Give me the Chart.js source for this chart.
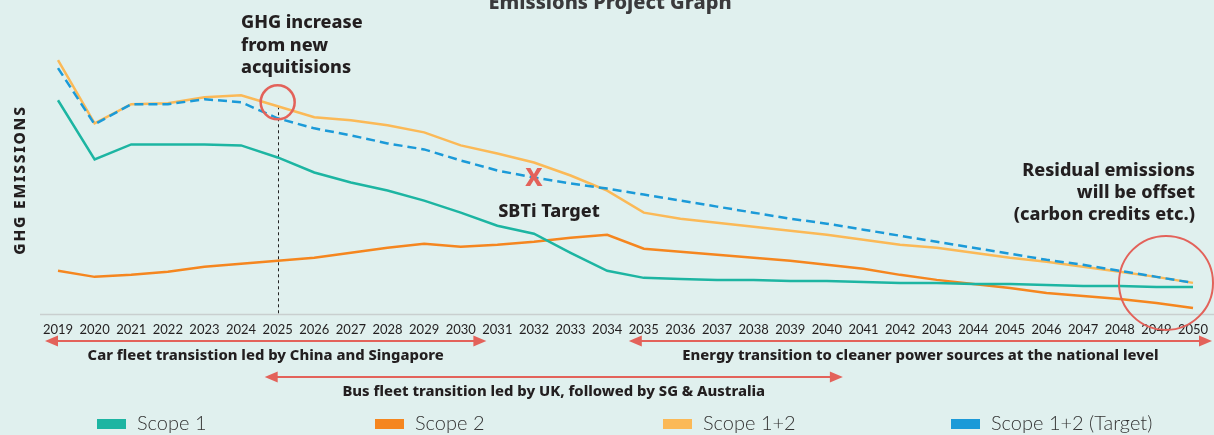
<!DOCTYPE html>
<html>
<head>
<meta charset="utf-8">
<script src="https://cdn.jsdelivr.net/npm/chart.js@4.4.1/dist/chart.umd.min.js"></script>
<style>
  html, body { margin: 0; padding: 0; background: #e0f0ee; }
  canvas { display: block; }
</style>
</head>
<body>
<canvas id="chart" width="1214" height="435"></canvas>
<script>
// Reporting years
const years = ['2019','2020','2021','2022','2023','2024','2025','2026','2027','2028','2029','2030',
  '2031','2032','2033','2034','2035','2036','2037','2038','2039','2040','2041','2042',
  '2043','2044','2045','2046','2047','2048','2049','2050'];

// GHG emissions (index units)
const scope1 = [213,154,169,169,169,168,156,141,131,123,113,101,88,80,61,43,
  36,35,34,34,33,33,32,31,31,30,30,29,28,28,27,27];
const scope2 = [43,37,39,42,47,50,53,56,61,66,70,67,69,72,76,79,
  65,62,59,56,53,49,45,39,34,30,26,21,18,15,11,6];
const scope12 = [253,190,209,210,216,218,207,196,193,188,181,168,160,151,138,123,
  101,95,91,87,83,79,74,69,66,61,56,52,47,42,37,31];
const scope12Target = [245,189,209,209,214,211,195,185,178,170,164,153,143,136,130,125,
  119,113,107,101,95,90,84,78,72,66,60,54,49,43,37,31];

const seriesNames = ['Scope 1', 'Scope 2', 'Scope 1+2', 'Scope 1+2 (Target)'];
const seriesColors = ['#1db5a2', '#f5861f', '#fbb957', '#1b9ad8'];

// Annotation texts
const chartTitle = 'Emissions Project Graph';
const axisTitle = 'GHG EMISSIONS';
const acquisitionNote = ['GHG increase', 'from new', 'acquitisions'];
const acquisitionYear = '2025';
const sbtiNote = 'SBTi Target';
const sbtiYear = '2032';
const residualNote = ['Residual emissions', 'will be offset', '(carbon credits etc.)'];
const transitions = [
  { text: 'Car fleet transistion led by China and Singapore', from: '2019', to: '2031', pad: [-13, -11], row: 0 },
  { text: 'Energy transition to cleaner power sources at the national level', from: '2035', to: '2050', pad: [-15, 19], row: 0 },
  { text: 'Bus fleet transition led by UK, followed by SG & Australia', from: '2025', to: '2040', pad: [-13, 16], row: 1 }
];

const INK = '#231f20';
const RED = '#e3625a';
const FONT = '"Noto Sans", "Open Sans", sans-serif';
const LIGHT_FONT = 'Lato, "Open Sans", sans-serif';

const backgroundPlugin = {
  id: 'background',
  beforeDraw(chart) {
    const ctx = chart.ctx;
    ctx.save();
    ctx.fillStyle = '#e0f0ee';
    ctx.fillRect(0, 0, chart.width, chart.height);
    ctx.restore();
  }
};

function xOf(chart, year) {
  return chart.scales.x.getPixelForValue(years.indexOf(year));
}

// Axis baseline and the dashed marker below the acquisitions point
const underlayPlugin = {
  id: 'underlay',
  beforeDatasetsDraw(chart) {
    const ctx = chart.ctx;
    const area = chart.chartArea;
    ctx.save();
    ctx.strokeStyle = '#c9cfcf';
    ctx.lineWidth = 1.5;
    ctx.beginPath();
    ctx.moveTo(40, area.bottom + 0.5);
    ctx.lineTo(chart.width, area.bottom + 0.5);
    ctx.stroke();

    const i = years.indexOf(acquisitionYear);
    const x = Math.round(xOf(chart, acquisitionYear)) + 0.5;
    const yTop = chart.scales.y.getPixelForValue(scope12[i]);
    ctx.strokeStyle = '#222';
    ctx.lineWidth = 1;
    ctx.setLineDash([3, 3]);
    ctx.beginPath();
    ctx.moveTo(x, yTop);
    ctx.lineTo(x, area.bottom);
    ctx.stroke();
    ctx.restore();
  }
};

function drawArrow(ctx, x1, x2, y) {
  const head = 13, half = 5.5;
  ctx.beginPath();
  ctx.moveTo(x1 + head - 2, y);
  ctx.lineTo(x2 - head + 2, y);
  ctx.stroke();
  ctx.beginPath();
  ctx.moveTo(x1, y);
  ctx.lineTo(x1 + head, y - half);
  ctx.lineTo(x1 + head, y + half);
  ctx.closePath();
  ctx.fill();
  ctx.beginPath();
  ctx.moveTo(x2, y);
  ctx.lineTo(x2 - head, y - half);
  ctx.lineTo(x2 - head, y + half);
  ctx.closePath();
  ctx.fill();
}

const overlayPlugin = {
  id: 'overlay',
  afterDraw(chart) {
    const ctx = chart.ctx;
    const yScale = chart.scales.y;
    const area = chart.chartArea;
    ctx.save();

    // Title (partly above the canvas edge)
    ctx.fillStyle = '#3a3a3c';
    ctx.font = `800 20px ${FONT}`;
    ctx.textAlign = 'center';
    ctx.textBaseline = 'alphabetic';
    ctx.fillText(chartTitle, 610, 9);

    // Vertical axis title
    ctx.save();
    ctx.translate(25, 180);
    ctx.rotate(-Math.PI / 2);
    ctx.fillStyle = INK;
    ctx.font = `800 15.5px ${FONT}`;
    ctx.textAlign = 'center';
    ctx.letterSpacing = '1.8px';
    ctx.fillText(axisTitle, 0, 0);
    ctx.restore();

    // Acquisitions note and circle
    const ai = years.indexOf(acquisitionYear);
    const ax = xOf(chart, acquisitionYear);
    ctx.fillStyle = INK;
    ctx.font = `800 18px ${FONT}`;
    ctx.textAlign = 'left';
    acquisitionNote.forEach((line, k) => ctx.fillText(line, 241, 28 + k * 22.5));
    ctx.strokeStyle = RED;
    ctx.lineWidth = 2.5;
    ctx.beginPath();
    ctx.arc(ax, yScale.getPixelForValue(scope12[ai]) - 4, 17, 0, Math.PI * 2);
    ctx.stroke();

    // SBTi target marker
    const si = years.indexOf(sbtiYear);
    const sx = xOf(chart, sbtiYear);
    const sy = yScale.getPixelForValue(scope12Target[si]);
    ctx.fillStyle = RED;
    ctx.font = `800 25px ${FONT}`;
    ctx.textAlign = 'center';
    ctx.textBaseline = 'middle';
    ctx.fillText('X', sx, sy + 1);
    ctx.fillStyle = INK;
    ctx.font = `800 18px ${FONT}`;
    ctx.textBaseline = 'alphabetic';
    ctx.fillText(sbtiNote, sx + 15, 217);

    // Residual emissions note and circle
    ctx.textAlign = 'right';
    ctx.font = `800 18px ${FONT}`;
    residualNote.forEach((line, k) => ctx.fillText(line, 1195, 176 + k * 22));
    const lastX = xOf(chart, years[years.length - 1]);
    ctx.strokeStyle = RED;
    ctx.lineWidth = 2;
    ctx.beginPath();
    ctx.arc(lastX - 27, yScale.getPixelForValue(scope12[scope12.length - 1]), 47, 0, Math.PI * 2);
    ctx.stroke();

    // Transition arrows
    ctx.strokeStyle = RED;
    ctx.fillStyle = RED;
    ctx.lineWidth = 2;
    const rowY = [area.bottom + 27, area.bottom + 63];
    const spans = transitions.map(t => [xOf(chart, t.from) + t.pad[0], xOf(chart, t.to) + t.pad[1]]);
    transitions.forEach((t, k) => drawArrow(ctx, spans[k][0], spans[k][1], rowY[t.row]));
    ctx.fillStyle = INK;
    ctx.font = `800 14.8px ${FONT}`;
    ctx.textAlign = 'center';
    transitions.forEach((t, k) => {
      ctx.fillText(t.text, (spans[k][0] + spans[k][1]) / 2, rowY[t.row] + 19);
    });

    // Legend
    const legendX = [97, 375, 663, 951];
    ctx.font = `300 20px ${LIGHT_FONT}`;
    ctx.textAlign = 'left';
    ctx.textBaseline = 'middle';
    chart.data.datasets.forEach((ds, k) => {
      ctx.fillStyle = ds.borderColor;
      ctx.fillRect(legendX[k], 419, 29, 10);
      ctx.fillStyle = '#333';
      ctx.fillText(ds.label, legendX[k] + 40, 424);
    });

    ctx.restore();
  }
};

function lineDataset(k, data, extra) {
  return Object.assign({
    label: seriesNames[k],
    data,
    borderColor: seriesColors[k],
    backgroundColor: seriesColors[k],
    borderWidth: 2.5,
    pointRadius: 0,
    tension: 0,
    fill: false
  }, extra || {});
}

new Chart(document.getElementById('chart'), {
  type: 'line',
  data: {
    labels: years,
    datasets: [
      lineDataset(0, scope1, { order: 3 }),
      lineDataset(1, scope2, { order: 4 }),
      lineDataset(2, scope12, { order: 2 }),
      lineDataset(3, scope12Target, { order: 1, borderDash: [9, 5] })
    ]
  },
  options: {
    responsive: false,
    animation: false,
    events: [],
    layout: { padding: { left: 58, right: 21, top: 30, bottom: 97.4 } },
    plugins: { legend: { display: false }, tooltip: { enabled: false }, title: { display: false } },
    scales: {
      x: {
        offset: false,
        grid: { display: false },
        border: { display: false },
        ticks: {
          autoSkip: false, maxRotation: 0, padding: 0,
          color: INK, font: { family: LIGHT_FONT, size: 13 }
        }
      },
      y: { display: false, min: 0, max: 283 }
    }
  },
  plugins: [backgroundPlugin, underlayPlugin, overlayPlugin]
});
</script>
</body>
</html>
